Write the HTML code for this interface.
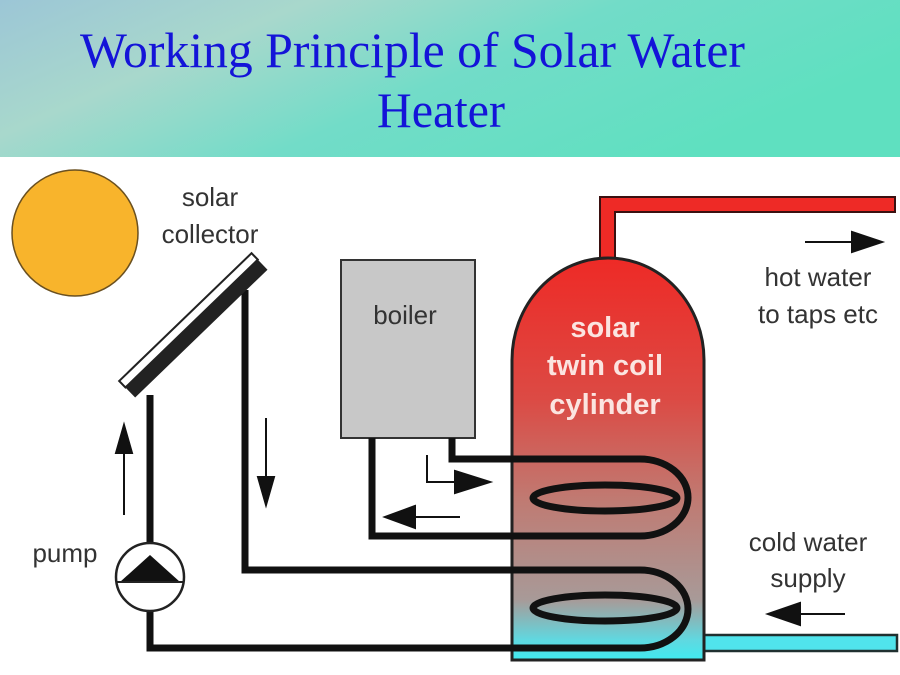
<!DOCTYPE html>
<html><head><style>
html,body{margin:0;padding:0;width:900px;height:675px;overflow:hidden;background:#fff}
</style></head><body>
<svg width="900" height="675" viewBox="0 0 900 675" xmlns="http://www.w3.org/2000/svg">
<defs>
<linearGradient id="hdr" x1="0" y1="0" x2="1" y2="0.4">
<stop offset="0" stop-color="#9cc6d6"/><stop offset="0.3" stop-color="#a8d8cc"/><stop offset="0.6" stop-color="#72dcc8"/><stop offset="1" stop-color="#5fe0c0"/></linearGradient>
<linearGradient id="cyl" x1="0" y1="0" x2="0" y2="1">
<stop offset="0" stop-color="#ee2a26"/><stop offset="0.35" stop-color="#dc4a44"/><stop offset="0.6" stop-color="#c07a72"/><stop offset="0.85" stop-color="#a89a98"/><stop offset="0.95" stop-color="#60d8e0"/><stop offset="1" stop-color="#40eaf0"/></linearGradient>
</defs>
<rect x="0" y="0" width="900" height="157" fill="url(#hdr)"/>
<text x="80" y="67" font-family="Liberation Serif,serif" font-size="50" fill="#1414d8" textLength="665" lengthAdjust="spacingAndGlyphs">Working Principle of Solar Water</text>
<text x="377" y="127" font-family="Liberation Serif,serif" font-size="50" fill="#1414d8" textLength="128" lengthAdjust="spacingAndGlyphs">Heater</text>

<circle cx="75" cy="233" r="63" fill="#f8b42c" stroke="#6a5020" stroke-width="1.5"/>

<!-- hot pipe -->
<path d="M600 280 V197 H895 V212 H615 V280 Z" fill="#ee2a26" stroke="#3a1010" stroke-width="2"/>
<!-- cold pipe -->
<rect x="690" y="635" width="207" height="16" fill="#50e4ec" stroke="#203030" stroke-width="2.5"/>
<!-- cylinder -->
<path d="M512 660 V360 A96 102 0 0 1 704 360 V660 Z" fill="url(#cyl)" stroke="#222" stroke-width="3"/>
<g font-family="Liberation Sans,sans-serif" font-size="29" font-weight="bold" fill="#fbe4e0" text-anchor="middle">
<text x="605" y="337">solar</text><text x="605" y="375">twin coil</text><text x="605" y="414">cylinder</text></g>

<!-- boiler -->
<rect x="341" y="260" width="134" height="178" fill="#c8c8c8" stroke="#333" stroke-width="2"/>

<g font-family="Liberation Sans,sans-serif" font-size="26" fill="#333">
<text x="210" y="206" text-anchor="middle">solar</text>
<text x="210" y="243" text-anchor="middle">collector</text>
<text x="65" y="562" text-anchor="middle">pump</text>
<text x="818" y="286" text-anchor="middle">hot water</text>
<text x="818" y="323" text-anchor="middle">to taps etc</text>
<text x="808" y="551" text-anchor="middle">cold water</text>
<text x="808" y="587" text-anchor="middle">supply</text>
<text x="405" y="324" text-anchor="middle">boiler</text>
</g>

<g fill="none" stroke="#111" stroke-width="7" stroke-linejoin="miter">
<path d="M452 438 V459 H640 A48 38.5 0 0 1 640 536 H372 V438"/>
<ellipse cx="605" cy="498" rx="72" ry="13"/>
<path d="M245 290 V570 H640 A48 39 0 0 1 640 648 H150 V611"/>
<ellipse cx="605" cy="608" rx="72" ry="13"/>
<path d="M150 543 V395"/>
</g>
<!-- collector -->
<g transform="translate(193,325) rotate(-44)">
<rect x="-92" y="-3" width="184" height="15" fill="#222"/>
<rect x="-92" y="-11" width="184" height="9" fill="#fff" stroke="#222" stroke-width="2"/>
</g>
<!-- pump -->
<circle cx="150" cy="577" r="34" fill="#fff" stroke="#222" stroke-width="2.5"/>
<path d="M120 582 L150 555 L180 582 Z" fill="#111"/>
<line x1="117" y1="582" x2="183" y2="582" stroke="#222" stroke-width="2"/>

<g stroke="#111" stroke-width="2" fill="#111">
<line x1="124" y1="515" x2="124" y2="445"/><path d="M116 453 L124 425 L132 453Z"/>
<line x1="266" y1="418" x2="266" y2="485"/><path d="M258 477 L266 505 L274 477Z"/>
<path d="M427 455 V482 H460" fill="none"/><path d="M455 471 L490 482 L455 493Z"/>
<line x1="460" y1="517" x2="410" y2="517"/><path d="M415 506 L385 517 L415 528Z"/>
<line x1="805" y1="242" x2="860" y2="242"/><path d="M852 232 L882 242 L852 252Z"/>
<line x1="845" y1="614" x2="795" y2="614"/><path d="M800 603 L768 614 L800 625Z"/>
</g>
</svg>
</body></html>
